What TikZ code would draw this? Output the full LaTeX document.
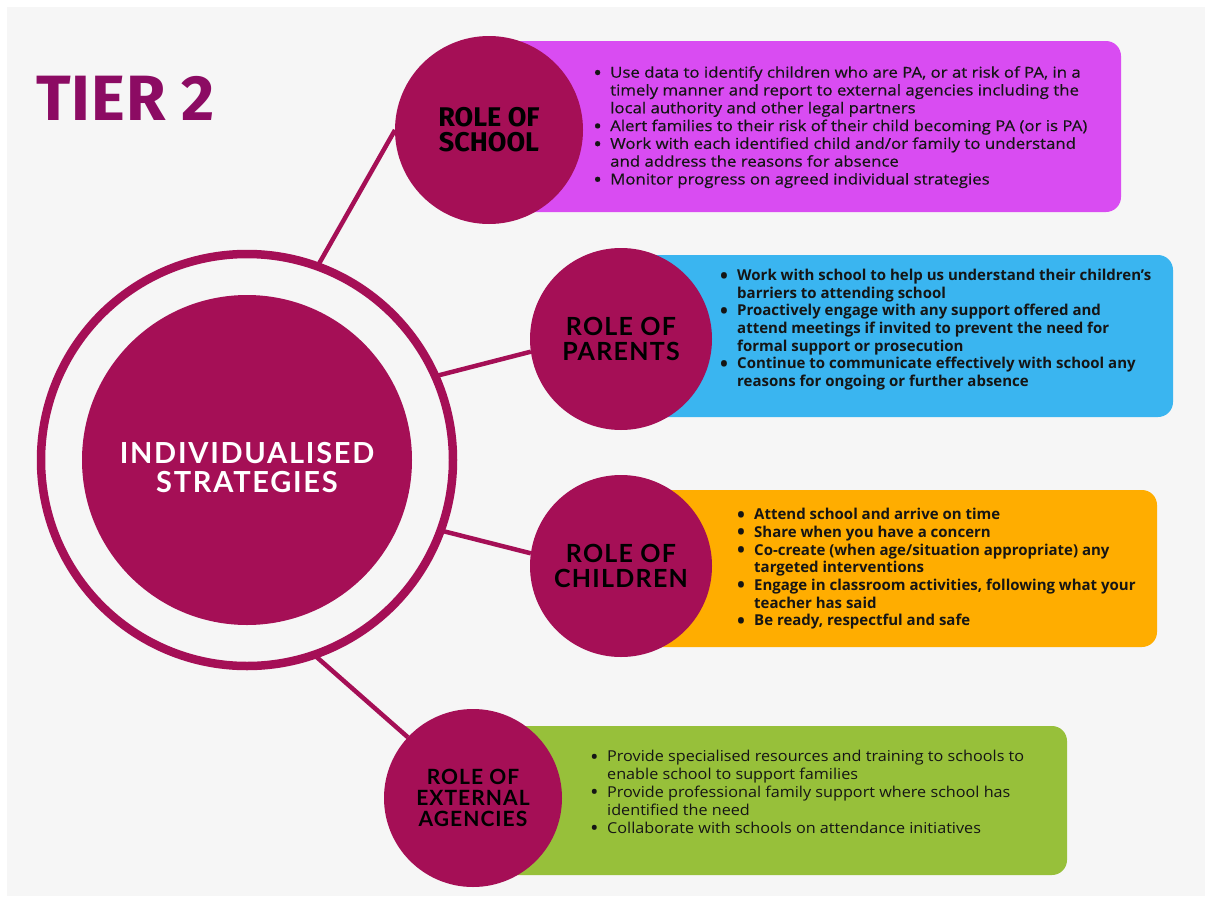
\documentclass[tikz,border=0pt]{standalone}
\usepackage{fontspec}
\setmainfont{Open Sans}
\newfontfamily\schoolfont{Open Sans}[FakeStretch=1.12, FakeBold=0.4]
\newfontfamily\extfont{Open Sans}[FakeStretch=1.08]
\newfontfamily\firafont{Fira Sans}
\newfontfamily\firatitle{Fira Sans}[LetterSpace=1.5]
\newfontfamily\latols{Lato}[LetterSpace=5]
\newfontfamily\latocore{Lato}[LetterSpace=6]
\definecolor{bg}{HTML}{F6F6F6}
\definecolor{crim}{HTML}{A50F56}
\definecolor{titlec}{HTML}{8C0B63}
\definecolor{purp}{HTML}{D94CF2}
\definecolor{bluec}{HTML}{3AB5F0}
\definecolor{orangec}{HTML}{FFAD00}
\definecolor{greenc}{HTML}{97C03A}
\definecolor{txt}{HTML}{151515}
\newcommand\bl{\makebox[17pt][l]{\smash{\raisebox{-2.5pt}{\fontsize{21}{0}\selectfont\textbullet}}}}
\newcommand\cl{\hspace*{17pt}}
\newcommand\st{\rule{0pt}{11pt}}
\begin{document}
\begin{tikzpicture}[x=1pt,y=-1pt,
  panel/.style={rounded corners=15pt},
  rolec/.style={circle, fill=crim, inner sep=0pt, outer sep=0pt, text=black, align=center},
  conn/.style={draw=crim, line width=4.5pt},
  btext/.style={anchor=north west, inner sep=0pt, align=left, text=txt, font=\fontsize{15}{17.8}\selectfont},
  rolefont/.style={font=\latols\bfseries\fontsize{25}{24.5}\selectfont}
]
\useasboundingbox (0,0) rectangle (1205,905);
\fill[white] (0,0) rectangle (1205,905);
\fill[bg] (7,7) rectangle (1205,896);

% title
\node[anchor=base west, inner sep=0pt, text=titlec, font=\firatitle\bfseries\fontsize{64}{64}\selectfont] (title) at (36,120) {TIER 2};

% panels
\fill[purp, panel] (489,41) rectangle (1121,212);
\fill[bluec, panel] (621,255) rectangle (1173,417);
\fill[orangec, panel] (621,490) rectangle (1157,647);
\fill[greenc, panel] (473,726) rectangle (1067,875);

% central ring and core
\node[circle, draw=crim, line width=8.5pt, minimum size=412pt, inner sep=0pt, outer sep=0pt] (ring) at (247,460) {};
\node[circle, fill=crim, minimum size=330pt, inner sep=0pt] (core) at (247,460) {};
\node[text=white, align=center, inner sep=0pt, font=\latocore\bfseries\fontsize{29}{29}\selectfont] (coretext) at ([yshift=-8pt]core.center) {INDIVIDUALISED\\STRATEGIES};

% role circles
\node[rolec, minimum size=188pt, font=\firafont\bfseries\fontsize{27}{25}\selectfont] (school) at (489,130) {ROLE OF\\SCHOOL};
\node[rolec, minimum size=182pt, rolefont] (parents) at (621,339) {ROLE OF\\PARENTS};
\node[rolec, minimum size=182pt, rolefont] (children) at (621,566) {ROLE OF\\CHILDREN};
\node[rolec, minimum size=178pt, font=\latols\bfseries\fontsize{21}{21}\selectfont] (ext) at (473,798) {ROLE OF\\EXTERNAL\\AGENCIES};

% connectors
\draw[conn] (ring.70) -- (school.180);
\draw[conn] (ring.24) -- (parents.188);
\draw[conn] (ring.-20) -- (children.172);
\draw[conn] (ring.-71) -- (ext.137);

% texts
\node[btext, font=\schoolfont\fontsize{15}{17.8}\selectfont] (schooltext) at (593,66) {\st\bl Use data to identify children who are PA, or at risk of PA, in a\\
\cl timely manner and report to external agencies including the\\
\cl local authority and other legal partners\\
\bl Alert families to their risk of their child becoming PA (or is PA)\\
\bl Work with each identified child and/or family to understand\\
\cl and address the reasons for absence\\
\bl Monitor progress on agreed individual strategies};

\node[btext, font=\bfseries\fontsize{15}{17.6}\selectfont] (parenttext) at (720,269) {\st\bl Work with school to help us understand their children’s\\
\cl barriers to attending school\\
\bl Proactively engage with any support offered and\\
\cl attend meetings if invited to prevent the need for\\
\cl formal support or prosecution\\
\bl Continue to communicate effectively with school any\\
\cl reasons for ongoing or further absence};

\node[btext, font=\bfseries\fontsize{15}{17.7}\selectfont] (childtext) at (737,508) {\st\bl Attend school and arrive on time\\
\bl Share when you have a concern\\
\bl Co-create (when age/situation appropriate) any\\
\cl targeted interventions\\
\bl Engage in classroom activities, following what your\\
\cl teacher has said\\
\bl Be ready, respectful and safe};

\node[btext, font=\extfont\fontsize{15}{17.9}\selectfont] (exttext) at (590,750) {\st\bl Provide specialised resources and training to schools to\\
\cl enable school to support families\\
\bl Provide professional family support where school has\\
\cl identified the need\\
\bl Collaborate with schools on attendance initiatives};
\end{tikzpicture}
\end{document}
